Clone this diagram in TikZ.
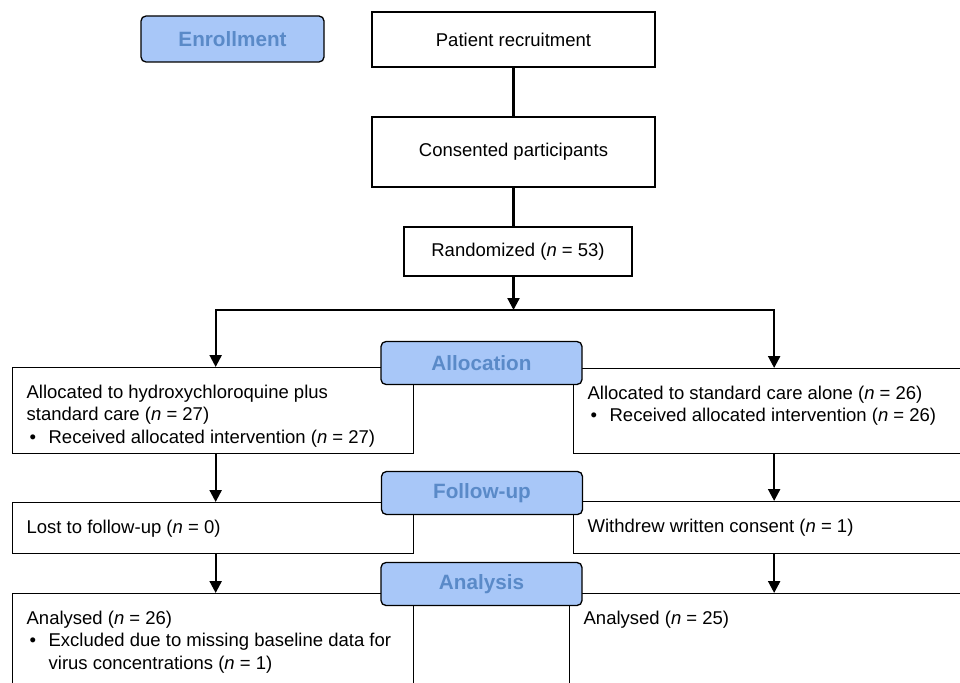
\documentclass[tikz,border=0pt]{standalone}
\usepackage{fontspec}
\setmainfont{Liberation Sans}
\usetikzlibrary{arrows.meta}

\definecolor{phasefill}{HTML}{A8C7F8}
\definecolor{phasetext}{HTML}{5A8AC8}

\newcommand{\cellbox}[2]{\parbox[t][#1][t]{373pt}{\raggedright #2}}
\newcommand{\bulletitem}[1]{\par\hangindent=22pt\hangafter=1\hspace*{3pt}\makebox[19pt][l]{•}#1}
\newcommand{\nn}{\textit{n}}

\begin{document}
\begin{tikzpicture}[x=1pt, y=-1pt, >={Triangle[length=12pt,width=12pt]},
  every node/.style={font=\fontsize{18.5}{22.5}\selectfont},
  mainbox/.style={draw, line width=1.3pt, inner sep=0pt},
  flowbox/.style={draw, line width=1.3pt, anchor=north west, inner xsep=14pt, inner ysep=17pt},
  phase/.style={draw, line width=1.3pt, rounded corners=5pt, fill=phasefill, text=phasetext,
    font=\bfseries\fontsize{20.7}{24}\selectfont, minimum width=201pt, minimum height=43pt, inner sep=0pt},
  flowline/.style={line width=2.3pt},
  flowarrow/.style={line width=2.3pt, ->}]

  \useasboundingbox (0,0) rectangle (960,682);
  \clip (0,0) rectangle (960,682);

  % enrollment
  \node[mainbox, minimum width=283pt, minimum height=55pt] (recruit) at (513.5,39.5) {Patient recruitment};
  \node[mainbox, minimum width=283pt, minimum height=70pt] (consent) at (513.5,152) {Consented participants};
  \node[mainbox, minimum width=228pt, minimum height=49pt] (random) at (518,251.5) {Randomized (\nn{} = 53)};
  \coordinate (split) at (513.5,310);

  % allocation
  \node[flowbox] (allocL) at (12,367) {\cellbox{52pt}{Allocated to hydroxychloroquine plus\\
    standard care (\nn{} = 27)\bulletitem{Received allocated intervention (\nn{} = 27)}}};
  \node[flowbox] (allocR) at (573,368) {\cellbox{51pt}{Allocated to standard care alone (\nn{} = 26)%
    \bulletitem{Received allocated intervention (\nn{} = 26)}}};

  % follow-up
  \node[flowbox] (lostL) at (12,502) {\cellbox{17pt}{Lost to follow-up (\nn{} = 0)}};
  \node[flowbox] (withR) at (573,501) {\cellbox{18pt}{Withdrew written consent (\nn{} = 1)}};

  % analysis
  \node[flowbox] (anaL) at (12,593) {\cellbox{96pt}{Analysed (\nn{} = 26)%
    \bulletitem{Excluded due to missing baseline data for\newline virus concentrations (\nn{} = 1)}}};
  \node[flowbox] (anaR) at (569,593) {\cellbox{96pt}{Analysed (\nn{} = 25)}};

  \draw[flowline] (recruit) -- (consent);
  \draw[flowline] (consent.south) -- (consent.south |- random.north);
  \draw[flowarrow] (split |- random.south) -- (split);
  \draw[flowarrow] (split) -| ([xshift=2.5pt]allocL.north);
  \draw[flowarrow] (split) -| (allocR.north);
  \draw[flowarrow] ([xshift=2.5pt]allocL.south) -- ([xshift=2.5pt]lostL.north);
  \draw[flowarrow] ([xshift=2.5pt]lostL.south) -- ([xshift=2.5pt]anaL.north);
  \draw[flowarrow] (allocR) -- (withR);
  \draw[flowarrow] (withR.south) -- (withR.south |- anaR.north);

  % phase labels
  \node[phase, minimum width=183pt, minimum height=46pt] (enroll) at (232.5,39) {Enrollment};
  \node[phase] (allocation) at (481.5,363) {Allocation};
  \node[phase] (followup) at (482,493) {Follow-up};
  \node[phase] (analysis) at (481.5,584) {Analysis};
\end{tikzpicture}
\end{document}
